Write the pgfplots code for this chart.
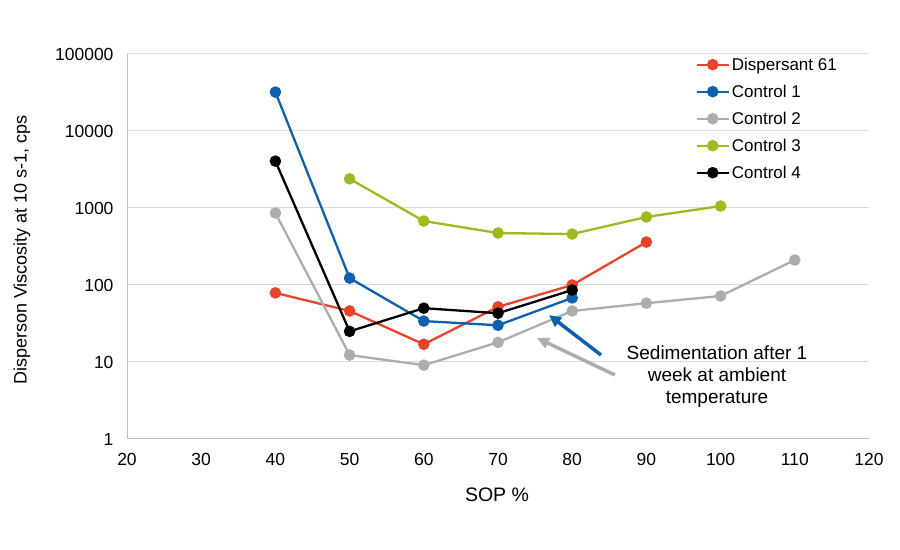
\documentclass[border=0pt]{standalone}
\usepackage{pgfplots}
\pgfplotsset{compat=1.18}
\usepackage{fontspec}
\setmainfont{Liberation Sans}
\usetikzlibrary{arrows.meta}
\definecolor{cred}{HTML}{E8442A}
\definecolor{cblue}{HTML}{0F5FAF}
\definecolor{cgrey}{HTML}{ADADAD}
\definecolor{cgreen}{HTML}{9BBB1E}
\definecolor{cgrid}{HTML}{D9D9D9}
\definecolor{caxis}{HTML}{BFBFBF}
\begin{document}
\begin{tikzpicture}
\path[use as bounding box] (0,0) rectangle (900bp,550bp);
\begin{axis}[
  at={(127bp,111bp)}, anchor=south west,
  scale only axis, width=742bp, height=385bp,
  xmin=20, xmax=120, ymin=1, ymax=100000, ymode=log,
  xtick={20,30,...,120},
  ytick={1,10,100,1000,10000,100000},
  yticklabels={1,10,100,1000,10000,100000},
  log ticks with fixed point,
  yminorticks=false,
  /pgf/number format/assume math mode=true,
  axis lines=left, axis line style={-, draw=caxis, line width=1bp},
  major tick length=0pt, minor tick length=0pt,
  ymajorgrids, grid style={cgrid, line width=1bp},
  tick label style={font=\fontsize{17.5bp}{20bp}\selectfont, text=black},
  yticklabel style={xshift=-10bp},
  xticklabel style={yshift=-11bp},
  every axis plot/.append style={line width=2.3bp, mark=*, mark size=4.6bp},
  legend style={at={(rel axis cs:0.762,1.013)}, anchor=north west, draw=none, fill=none,
    font=\fontsize{17bp}{20bp}\selectfont, cells={anchor=west},
    nodes={minimum height=27bp, inner ysep=0pt}, row sep=0pt},
  legend image code/.code={\draw[mark repeat=2,mark phase=2] plot coordinates {(0bp,0bp) (16bp,0bp) (32bp,0bp)};},
]
\addplot[cred, mark options={fill=cred}] coordinates {(40,79) (50,46) (60,17) (70,52) (80,100) (90,361)};
\addlegendentry{Dispersant 61}
\addplot[cblue, mark options={fill=cblue}] coordinates {(40,32000) (50,123) (60,34) (70,30) (80,68)};
\addlegendentry{Control 1}
\addplot[cgrey, mark options={fill=cgrey}] coordinates {(40,861) (50,12.3) (60,9.1) (70,18) (80,46) (90,58) (100,72) (110,211)};
\addlegendentry{Control 2}
\addplot[cgreen, mark options={fill=cgreen}] coordinates {(50,2390) (60,677) (70,473) (80,459) (90,765) (100,1060)};
\addlegendentry{Control 3}
\addplot[black, mark options={fill=black}] coordinates {(40,4060) (50,25) (60,50) (70,43) (80,86)};
\addlegendentry{Control 4}
\end{axis}
\draw[cblue, line width=3.5bp, -{Triangle[width=11bp,length=12bp]}] (601bp,195bp) -- (549bp,235bp);
\draw[cgrey, line width=3.5bp, -{Triangle[width=11bp,length=12bp]}] (615bp,175bp) -- (537bp,212bp);
\node[align=center, font=\fontsize{19bp}{22bp}\selectfont] at (717bp,173bp) {Sedimentation after 1\\week at ambient\\temperature};
\node[font=\fontsize{19.5bp}{22bp}\selectfont] at (497bp,55bp) {SOP \%};
\node[rotate=90, font=\fontsize{18bp}{21bp}\selectfont] at (22bp,300bp) {Disperson Viscosity at 10 s-1, cps};
\end{tikzpicture}
\end{document}
